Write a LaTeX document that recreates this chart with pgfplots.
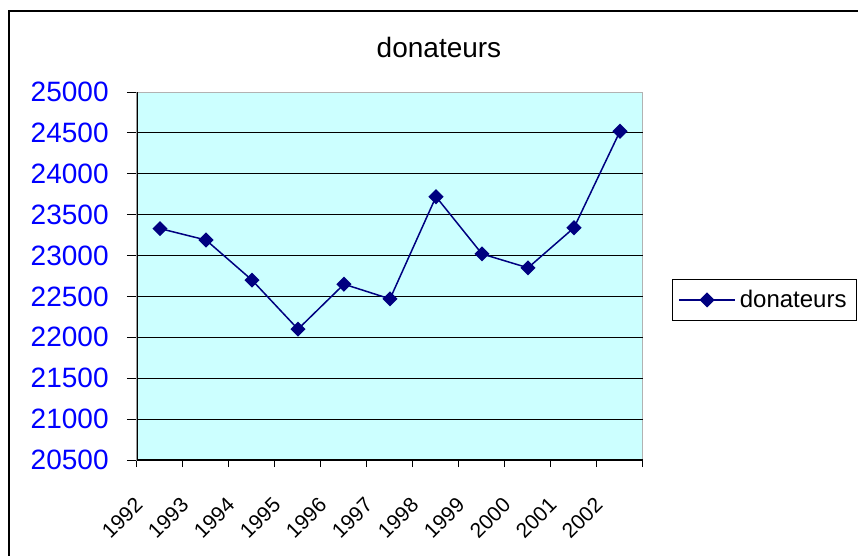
\documentclass[border=0pt]{standalone}
\usepackage{pgfplots}
\pgfplotsset{compat=1.18}
\usepackage{fontspec}
\setmainfont{Liberation Sans}
\definecolor{navyline}{RGB}{0,0,128}
\definecolor{plotbg}{RGB}{204,255,255}
\begin{document}
\begin{tikzpicture}
\useasboundingbox (0,0) rectangle (429pt,-278pt);
\draw[line width=1pt] (4.5pt,-300pt) -- (4.5pt,-5.5pt) -- (440pt,-5.5pt);
\node[font=\fontsize{14}{16}\selectfont] at (219.5pt,-23.5pt) {donateurs};
\begin{axis}[
  at={(68.5pt,-230pt)}, anchor=south west,
  scale only axis, width=253pt, height=184pt,
  xmin=0.5, xmax=11.5, ymin=20500, ymax=25000,
  xtick={1,...,11},
  xticklabels={1992,1993,1994,1995,1996,1997,1998,1999,2000,2001,2002},
  minor xtick={0.5,1.5,...,11.5},
  ytick={20500,21000,...,25000},
  scaled y ticks=false,
  extra y ticks={21000,21500,...,24500},
  extra y tick labels={},
  extra y tick style={ymajorgrids=true, major tick length=0pt, grid style={black, line width=0.6pt}},
  tick align=outside,
  tick pos=left,
  major tick length=5pt,
  minor tick length=3.5pt,
  major x tick style={draw=none},
  every tick/.style={black, line width=0.5pt},
  axis line style={gray!60, line width=0.5pt},
  axis background/.style={fill=plotbg},
  /pgf/number format/assume math mode=true,
  /pgf/number format/set thousands separator={},
  yticklabel style={font=\fontsize{14}{16}\selectfont, text=blue, inner sep=0pt, anchor=east, xshift=-9pt},
  xticklabel style={font=\fontsize{10.5}{12}\selectfont, rotate=45, anchor=north east, inner sep=0pt, xshift=-18.5pt, yshift=0.3pt},
  legend style={at={(1.057,0.435)}, anchor=west, draw=black, line width=0.5pt, fill=white,
    font=\fontsize{12}{14}\selectfont, inner xsep=3pt, inner ysep=3pt},
  legend cell align=left,
  legend image code/.code={\draw[mark repeat=2,mark phase=2,#1] plot coordinates {(0pt,0pt) (14pt,0pt) (28pt,0pt)};},
]
\addplot[color=navyline, line width=0.75pt, mark=square*, mark size=2.3pt, mark options={rotate=45, fill=navyline, draw=navyline}]
  coordinates {
  (1,23330) (2,23190) (3,22700) (4,22100) (5,22650) (6,22470)
  (7,23720) (8,23020) (9,22850) (10,23340) (11,24520)
  };
\addlegendentry{donateurs}
\draw[black, line width=0.6pt] (rel axis cs:0,1) -- (rel axis cs:0,0) -- (rel axis cs:1,0);
\end{axis}
\end{tikzpicture}
\end{document}
